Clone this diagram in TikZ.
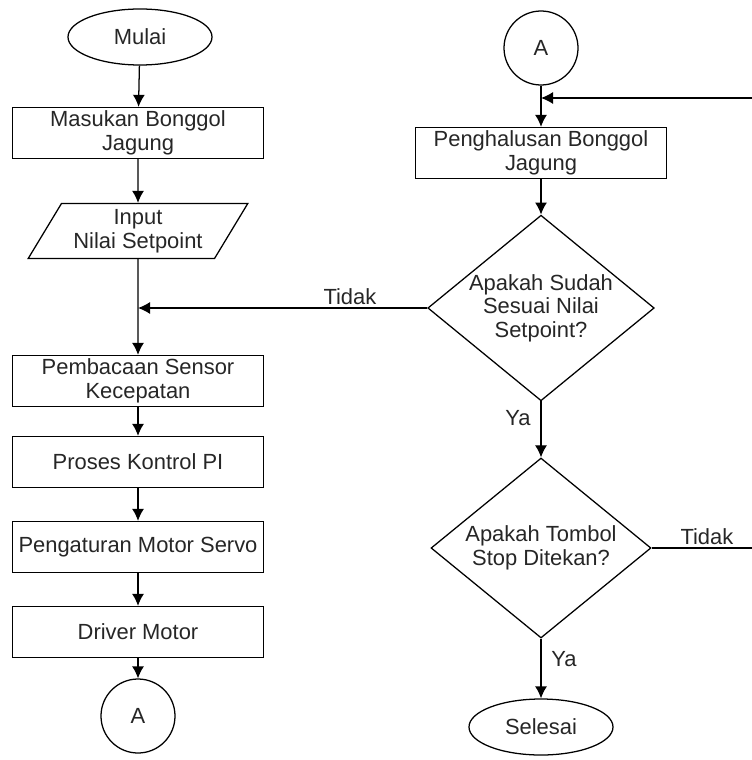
\documentclass[tikz,border=0pt]{standalone}
\usepackage{fontspec}
\setmainfont{Liberation Sans}
\usetikzlibrary{arrows.meta,shapes.geometric,positioning}
\tikzset{%
  >={Latex[width=3mm,length=3mm]},
  % Specifications for style of nodes:
            base/.style = {draw=black, inner sep=0pt, text centered},
       startstop/.style = {base, ellipse, minimum width=3.6cm, minimum height=1.4cm},
         process/.style = {base, rectangle, minimum width=6.275cm,
                           minimum height=1.275cm},
              io/.style = {base, trapezium, trapezium left angle=57,
                           trapezium right angle=123, trapezium stretches=true,
                           minimum width=5.5cm, minimum height=1.375cm},
        decision/.style = {base, diamond, aspect=1.22, minimum width=5.5cm,
                           minimum height=4.5cm},
       connector/.style = {base, circle, minimum size=1.85cm},
}
\begin{document}
\begin{tikzpicture}[line width=0.9pt,
    every node/.style={font=\fontsize{15.6}{16.8}\selectfont, text=black!85},
    align=center]
  \useasboundingbox (0,0) rectangle (18.8,-19);
  % Left column
  \node (mulai) [startstop] at (3.5,-0.925) {Mulai};
  \node (masukan) [process, below of=mulai, node distance=2.4cm, xshift=-0.05cm] {Masukan Bonggol\\Jagung};
  \node (input) [io, below of=masukan, node distance=2.45cm] {Input\\Nilai Setpoint};
  \node (baca) [process, below of=input, node distance=3.75cm] {Pembacaan Sensor\\Kecepatan};
  \node (kontrol) [process, below of=baca, node distance=2.025cm] {Proses Kontrol PI};
  \node (servo) [process, below of=kontrol, node distance=2.125cm] {Pengaturan Motor Servo};
  \node (driver) [process, below of=servo, node distance=2.125cm] {Driver Motor};
  \node (ka) [connector, below of=driver, node distance=2.1cm] {A};
  % Right column
  \node (kb) [connector] at (13.525,-1.2) {A};
  \node (halus) [process, below of=kb, node distance=2.625cm] {Penghalusan Bonggol\\Jagung};
  \node (cek) [decision, below of=halus, node distance=3.875cm] {Apakah Sudah\\Sesuai Nilai\\Setpoint?};
  \node (tombol) [decision, below of=cek, node distance=6cm] {Apakah Tombol\\Stop Ditekan?};
  \node (selesai) [startstop, below of=tombol, node distance=4.475cm] {Selesai};
  % Points where the return lines join
  \coordinate (gabung) at (input |- cek);
  \coordinate (balik) at (13.525,-2.45);
  \coordinate (pojok) at (18.85,-2.45);
  % Lines between nodes
  \draw[->] (mulai) -- (masukan);
  \draw[->] (masukan) -- (input);
  \draw[->] (input) -- (baca);
  \draw[->] (baca) -- (kontrol);
  \draw[->] (kontrol) -- (servo);
  \draw[->] (servo) -- (driver);
  \draw[->] (driver) -- (ka);
  \draw[->] (kb) -- (halus);
  \draw[->] (halus) -- (cek);
  \draw[->] (cek.west) -- node[above, inner sep=2pt, pos=0.267] {Tidak} (gabung);
  \draw[->] (cek) -- node[left, inner sep=7pt, pos=0.3] {Ya} (tombol);
  \draw[->] (tombol) -- node[right, inner sep=7pt, pos=0.35] {Ya} (selesai);
  \draw[->] (tombol.east) -- node[above, inner sep=2pt, pos=0.54] {Tidak}
    (tombol.east -| pojok) -- (pojok) -- (balik);
\end{tikzpicture}
\end{document}
